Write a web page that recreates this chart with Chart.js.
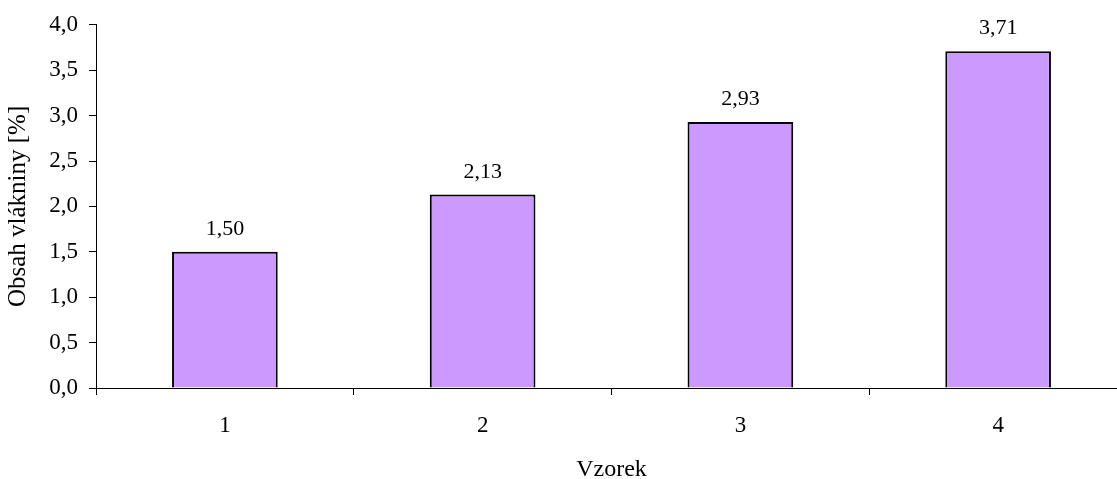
<!DOCTYPE html>
<html>
<head>
<meta charset="utf-8">
<script src="https://cdn.jsdelivr.net/npm/chart.js@4.4.1/dist/chart.umd.min.js"></script>
<style>
  html, body { margin: 0; padding: 0; background: #fff; overflow: hidden; }
  #wrap { width: 1117px; height: 479px; overflow: hidden; }
  canvas { display: block; }
</style>
</head>
<body>
<div id="wrap"><canvas id="c" width="1140" height="479"></canvas></div>
<script>
// Fibre content per sample
const categories = ['1', '2', '3', '4'];
const fibreContent = [1.50, 2.13, 2.93, 3.71];
const yTicks = [0, 0.5, 1, 1.5, 2, 2.5, 3, 3.5, 4];

const serif = 'Liberation Serif, Times New Roman, serif';
const comma = (v, d) => v.toFixed(d).replace('.', ',');

// Draws the value above each bar
const valueLabels = {
  id: 'valueLabels',
  afterDatasetsDraw(chart) {
    const ctx = chart.ctx;
    const meta = chart.getDatasetMeta(0);
    ctx.save();
    ctx.font = '22px ' + serif;
    ctx.fillStyle = '#000';
    ctx.textAlign = 'center';
    ctx.textBaseline = 'alphabetic';
    meta.data.forEach((bar, i) => {
      ctx.fillText(comma(fibreContent[i], 2), bar.x, bar.y - 17);
    });
    ctx.restore();
  }
};

new Chart(document.getElementById('c'), {
  type: 'bar',
  data: {
    labels: categories,
    datasets: [{
      data: fibreContent,
      backgroundColor: '#CC99FF',
      borderColor: '#000',
      borderWidth: 2,
      barPercentage: 0.41,
      categoryPercentage: 1
    }]
  },
  options: {
    responsive: false,
    animation: false,
    layout: { padding: { top: 24, right: 13, left: 0, bottom: 0 } },
    plugins: { legend: { display: false }, tooltip: { enabled: false } },
    scales: {
      x: {
        grid: { drawOnChartArea: false, color: '#000', tickLength: 7, offset: true },
        border: { color: '#000', width: 1 },
        ticks: { color: '#000', font: { family: serif, size: 23 }, padding: 17 },
        title: { display: true, text: 'Vzorek', color: '#000', font: { family: serif, size: 24 }, padding: { top: 0, bottom: -5 } },
        afterFit(scale) { scale.height = 91; }
      },
      y: {
        min: 0,
        max: 4,
        afterBuildTicks(scale) { scale.ticks = yTicks.map(v => ({ value: v })); },
        grid: { drawOnChartArea: false, color: '#000', tickLength: 7 },
        border: { color: '#000', width: 1 },
        ticks: { color: '#000', font: { family: serif, size: 23 }, padding: 11, callback: v => comma(v, 1) },
        title: { display: true, text: 'Obsah vlákniny [%]', color: '#000', font: { family: serif, size: 25 }, padding: { top: 3, bottom: 0 } },
        afterFit(scale) { scale.width = 96; }
      }
    }
  },
  plugins: [valueLabels]
});
</script>
</body>
</html>
